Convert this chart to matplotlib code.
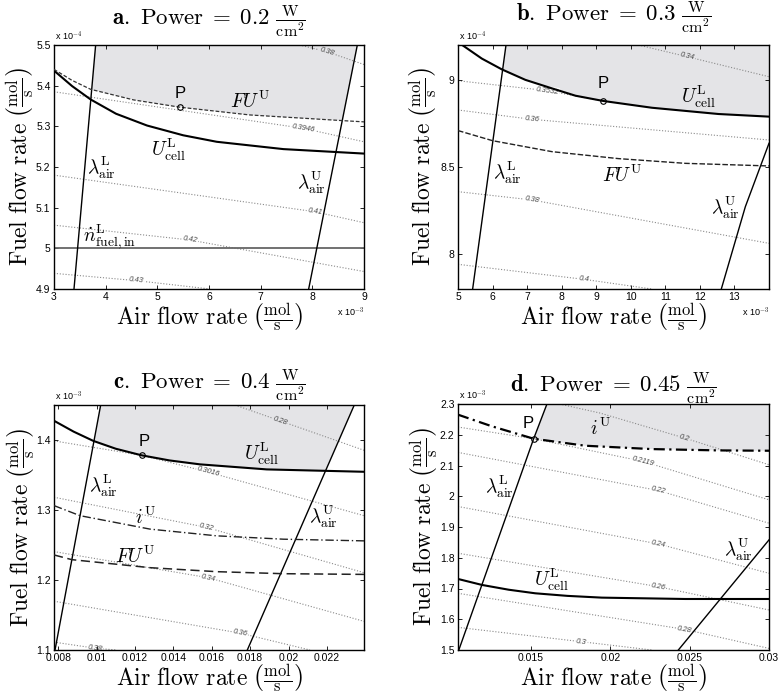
import math
import numpy as np
import matplotlib
matplotlib.use("Agg")
import matplotlib.pyplot as plt
from matplotlib.patches import Polygon
from matplotlib.path import Path
from matplotlib.ticker import FuncFormatter

plt.rcParams['mathtext.fontset'] = 'cm'
plt.rcParams['font.family'] = ['Liberation Sans', 'DejaVu Sans']

# ---------------- panel a  (x: 1e-3 mol/s, y: 1e-4 mol/s) ----------------
a_xlim = (3.0, 9.0)
a_ylim = (4.9, 5.5)
a_xticks = [3, 4, 5, 6, 7, 8, 9]
a_yticks = [4.9, 5.0, 5.1, 5.2, 5.3, 5.4, 5.5]
a_lamL_x = [3.387, 3.806]
a_lamL_y = [4.9, 5.5]
a_lamU_x = [7.929, 8.871]
a_lamU_y = [4.9, 5.5]
a_ucell_x = [3.0, 3.35, 3.71, 4.2, 4.8, 5.5, 6.15, 7.44, 9.0]
a_ucell_y = [5.437, 5.399, 5.366, 5.331, 5.302, 5.278, 5.262, 5.244, 5.233]
a_fu_x = [3.0, 3.35, 3.71, 4.54, 5.44, 6.79, 8.59, 9.0]
a_fu_y = [5.440, 5.413, 5.391, 5.365, 5.347, 5.328, 5.314, 5.311]
a_nfuel_in = 5.0
a_P = (5.44, 5.347)
a_levels = ['0.38', '0.3946', '0.41', '0.42', '0.43']
a_cont_x = [[7.75, 8.28, 9.0], [3.0, 7.83, 9.0], [3.0, 8.05, 9.0],
            [3.0, 5.63, 9.0], [3.0, 4.6, 6.02]]
a_cont_y = [[5.5, 5.4836, 5.452], [5.385, 5.295, 5.262], [5.180, 5.090, 5.063],
            [5.057, 5.0205, 4.943], [4.9385, 4.9205, 4.9]]
a_cont_lab = [1, 1, 1, 1, 1]

# ---------------- panel b  (x: 1e-3, y: 1e-4) ----------------
b_xlim = (5.0, 14.0)
b_ylim = (7.8, 9.2)
b_xticks = [5, 6, 7, 8, 9, 10, 11, 12, 13]
b_yticks = [8.0, 8.5, 9.0]
b_lamL_x = [5.424, 6.389]
b_lamL_y = [7.8, 9.2]
b_lamU_x = [12.62, 13.315, 14.0]
b_lamU_y = [7.8, 8.272, 8.636]
b_ucell_x = [5.12, 5.69, 6.27, 6.95, 7.72, 8.4, 9.2, 10.61, 12.54, 14.0]
b_ucell_y = [9.2, 9.122, 9.06, 9.0, 8.951, 8.909, 8.879, 8.84, 8.804, 8.789]
b_fu_x = [5.0, 6.0, 7.72, 9.65, 11.58, 14.0]
b_fu_y = [8.709, 8.651, 8.588, 8.548, 8.521, 8.506]
b_P = (9.196, 8.879)
b_levels = ['0.34', '0.3532', '0.36', '0.38', '0.4']
b_cont_x = [[10.22, 11.63, 14.0], [5.0, 7.58, 9.196], [5.0, 7.14, 14.0],
            [5.0, 7.14, 14.0], [5.0, 8.64, 10.61]]
b_cont_y = [[9.2, 9.133, 9.018], [8.995, 8.938, 8.879], [8.827, 8.7735, 8.655],
            [8.3585, 8.311, 8.062], [7.9416, 7.8556, 7.8]]
b_cont_lab = [1, 1, 1, 1, 1]

# ---------------- panel c  (x: mol/s, y: 1e-3) ----------------
c_xlim = (0.00778, 0.02393)
c_ylim = (1.1, 1.45)
c_xticks = [0.008, 0.010, 0.012, 0.014, 0.016, 0.018, 0.020, 0.022]
c_yticks = [1.1, 1.2, 1.3, 1.4]
c_lamL_x = [0.007833, 0.010212]
c_lamL_y = [1.1, 1.45]
c_lamU_x = [0.017851, 0.023424]
c_lamU_y = [1.1, 1.45]
c_ucell_x = [0.00778, 0.00880, 0.00983, 0.01100, 0.012349, 0.01380, 0.015387, 0.018859, 0.02393]
c_ucell_y = [1.4275, 1.4120, 1.3987, 1.3875, 1.3781, 1.3708, 1.3652, 1.3580, 1.3546]
c_iu_x = [0.00778, 0.009136, 0.012781, 0.016253, 0.019725, 0.02393]
c_iu_y = [1.3063, 1.2919, 1.2727, 1.2631, 1.2583, 1.2559]
c_fu_x = [0.00778, 0.008701, 0.012781, 0.016253, 0.019725, 0.02393]
c_fu_y = [1.2358, 1.2291, 1.2176, 1.2119, 1.2090, 1.2080]
c_P = (0.012349, 1.3781)
c_levels = ['0.28', '0.3016', '0.32', '0.34', '0.36', '0.38']
c_cont_x = [[0.017208, 0.019552, 0.02393], [0.00778, 0.012349, 0.01582, 0.02393],
            [0.00778, 0.015733, 0.02393], [0.00778, 0.01582, 0.02393],
            [0.00778, 0.017469, 0.021116], [0.00778, 0.009917, 0.011045]]
c_cont_y = [[1.45, 1.42748, 1.38531], [1.39873, 1.3781, 1.35417, 1.29188],
            [1.31823, 1.27511, 1.21043], [1.24061, 1.20324, 1.14095],
            [1.16969, 1.12417, 1.1], [1.11124, 1.10262, 1.1]]
c_cont_lab = [1, 2, 1, 1, 1, 1]

# ---------------- panel d  (x: mol/s, y: 1e-3) ----------------
d_xlim = (0.0104, 0.03)
d_ylim = (1.5, 2.3)
d_xticks = [0.015, 0.020, 0.025, 0.030]
d_yticks = [1.5, 1.6, 1.7, 1.8, 1.9, 2.0, 2.1, 2.2, 2.3]
d_lamL_x = [0.010451, 0.015168, 0.016006]
d_lamL_y = [1.5, 2.1871, 2.3]
d_lamU_x = [0.024287, 0.03]
d_lamU_y = [1.5, 1.8581]
d_ucell_x = [0.0104, 0.01192, 0.01360, 0.01527, 0.01730, 0.019465, 0.02471, 0.03]
d_ucell_y = [1.731, 1.7115, 1.6960, 1.6844, 1.6760, 1.6703, 1.6659, 1.6659]
d_iu_x = [0.0104, 0.012547, 0.015168, 0.018417, 0.0226, 0.0268, 0.03]
d_iu_y = [2.2653, 2.2273, 2.1871, 2.1643, 2.1534, 2.1491, 2.148]
d_P = (0.015168, 2.1871)
d_levels = ['0.2', '0.2119', '0.22', '0.24', '0.26', '0.28', '0.3']
d_cont_x = [[0.0168, 0.01934, 0.024685, 0.03], [0.0104, 0.015168, 0.022065, 0.03],
            [0.0104, 0.023008, 0.03], [0.0104, 0.023008, 0.03],
            [0.0104, 0.023008, 0.03], [0.0104, 0.024685, 0.03],
            [0.0104, 0.018187, 0.02261]]
d_cont_y = [[2.3, 2.2707, 2.18925, 2.1024], [2.2251, 2.1871, 2.1132, 1.9884],
            [2.1426, 2.0188, 1.9124], [1.9667, 1.8451, 1.7495],
            [1.8147, 1.7061, 1.6301], [1.6844, 1.5671, 1.5052],
            [1.5736, 1.5269, 1.5]]
d_cont_lab = [2, 2, 1, 1, 1, 1, 1]

# ---------------- text labels ----------------
LAM_L = r'$\lambda^{\mathrm{L}}_{\mathrm{air}}$'
LAM_U = r'$\lambda^{\mathrm{U}}_{\mathrm{air}}$'
UCELL = r'$U^{\mathrm{L}}_{\mathrm{cell}}$'
FUU = r'$FU^{\mathrm{U}}$'
IU = r'$i^{\mathrm{U}}$'
NFUEL = r'$\dot{n}^{\mathrm{L}}_{\mathrm{fuel,in}}$'

a_lbl = ['P', FUU, UCELL, LAM_L, LAM_U, NFUEL]
a_lbl_x = [5.44, 6.79, 5.21, 3.92, 7.99, 4.08]
a_lbl_y = [5.381, 5.361, 5.242, 5.197, 5.160, 5.029]
b_lbl = ['P', UCELL, FUU, LAM_L, LAM_U]
b_lbl_x = [9.215, 11.96, 9.75, 6.42, 12.74]
b_lbl_y = [8.98, 8.904, 8.454, 8.464, 8.263]
c_lbl = ['P', UCELL, LAM_L, IU, FUU, LAM_U]
c_lbl_x = [0.01247, 0.0186, 0.01035, 0.01252, 0.0120, 0.02181]
c_lbl_y = [1.3973, 1.3805, 1.335, 1.2895, 1.2344, 1.2895]
d_lbl = ['P', IU, LAM_L, UCELL, LAM_U]
d_lbl_x = [0.01481, 0.01936, 0.01301, 0.01626, 0.02810]
d_lbl_y = [2.236, 2.2218, 2.0296, 1.7278, 1.8255]

TITLES = [r'$\mathbf{a.}\ \mathrm{Power}\;=\;0.2\ \frac{\mathrm{W}}{\mathrm{cm}^2}$',
          r'$\mathbf{b.}\ \mathrm{Power}\;=\;0.3\ \frac{\mathrm{W}}{\mathrm{cm}^2}$',
          r'$\mathbf{c.}\ \mathrm{Power}\;=\;0.4\ \frac{\mathrm{W}}{\mathrm{cm}^2}$',
          r'$\mathbf{d.}\ \mathrm{Power}\;=\;0.45\ \frac{\mathrm{W}}{\mathrm{cm}^2}$']
XLABEL = r'$\mathrm{Air\ flow\ rate}\ \left(\frac{\mathrm{mol}}{\mathrm{s}}\right)$'
YLABEL = r'$\mathrm{Fuel\ flow\ rate}\ \left(\frac{\mathrm{mol}}{\mathrm{s}}\right)$'

FILL = '#e4e4e7'
CONT = '#8a8a8a'

fig = plt.figure(figsize=(7.78, 6.93), dpi=100)
W, H = 778.0, 693.0


def rect(l, r, t, b):
    return [l / W, (H - b) / H, (r - l) / W, (b - t) / H]


def fmt(v, pos):
    return '%g' % round(v, 6)


def setup(ax, xlim, ylim, xticks, yticks):
    ax.set_xlim(*xlim)
    ax.set_ylim(*ylim)
    ax.set_xticks(xticks)
    ax.set_yticks(yticks)
    ax.xaxis.set_major_formatter(FuncFormatter(fmt))
    ax.yaxis.set_major_formatter(FuncFormatter(fmt))
    ax.tick_params(direction='in', length=3, width=0.6, labelsize=7.5, pad=2.5,
                   top=True, right=True)
    for s in ax.spines.values():
        s.set_linewidth(1.0)


def shade(ax, xlim, ylim, lx, ly, ux, uy, bx, by):
    ytop = max(ylim[1], max(by))
    polyA = list(zip(bx, by)) + [(bx[-1], ytop), (bx[0], ytop)]
    polyB = list(zip(lx, ly)) + [(xlim[1], ylim[1])] + list(zip(ux, uy))[::-1]
    fp = Polygon(polyA, closed=True, facecolor=FILL, edgecolor='none', zorder=0)
    cp = Polygon(polyB, closed=True, transform=ax.transData)
    fp.set_clip_path(cp)
    ax.add_patch(fp)
    return Path(polyA), Path(polyB)


def contours(ax, levels, cx, cy, lab, pA, pB):
    for lev, xs, ys, i in zip(levels, cx, cy, lab):
        ax.plot(xs, ys, color=CONT, lw=0.8, linestyle=(0, (1, 1.6)), zorder=1)
        p = ax.transData.transform([(xs[i - 1], ys[i - 1]), (xs[i + 1], ys[i + 1])])
        ang = math.degrees(math.atan2(p[1][1] - p[0][1], p[1][0] - p[0][0]))
        inside = pA.contains_point((xs[i], ys[i])) and pB.contains_point((xs[i], ys[i]))
        bg = FILL if inside else 'white'
        ax.text(xs[i], ys[i], lev, fontsize=5.5, color='#444444', rotation=ang,
                rotation_mode='anchor', ha='center', va='center', zorder=1.5,
                style='italic',
                bbox=dict(facecolor=bg, edgecolor='none', pad=0.6))


def labels(ax, names, xs, ys):
    for n, x, y in zip(names, xs, ys):
        if n == 'P':
            ax.text(x, y, n, fontsize=12, ha='center', va='center', zorder=5)
        else:
            ax.text(x, y, n, fontsize=14, ha='center', va='center', zorder=5)


def deco(ax, title, ty, ylx, xexp, yexp):
    ax.text(0.5, ty, title, transform=ax.transAxes, ha='center', va='center', fontsize=16.5)
    ax.text(0.5, -0.115, XLABEL, transform=ax.transAxes, ha='center', va='center', fontsize=17)
    ax.text(ylx, 0.5, YLABEL, transform=ax.transAxes, ha='center', va='center',
            rotation=90, fontsize=17)
    ax.text(0.003, 1.008, 'x 10$^{%s}$' % yexp, transform=ax.transAxes, ha='left',
            va='bottom', fontsize=6.5)
    if xexp:
        ax.text(1.0, -0.095, 'x 10$^{%s}$' % xexp, transform=ax.transAxes, ha='right',
                va='center', fontsize=6.5)


def marker(ax, P):
    ax.plot([P[0]], [P[1]], marker='o', ms=4, mfc='none', mec='black', mew=0.8, zorder=4)


# ---------------- panel a ----------------
ax = fig.add_axes(rect(54, 364, 45, 289))
setup(ax, a_xlim, a_ylim, a_xticks, a_yticks)
pA, pB = shade(ax, a_xlim, a_ylim, a_lamL_x, a_lamL_y, a_lamU_x, a_lamU_y, a_fu_x, a_fu_y)
contours(ax, a_levels, a_cont_x, a_cont_y, a_cont_lab, pA, pB)
ax.axhline(a_nfuel_in, color='#666666', lw=1.3, zorder=2)
ax.plot(a_lamL_x, a_lamL_y, color='black', lw=1.0, zorder=3)
ax.plot(a_lamU_x, a_lamU_y, color='black', lw=1.0, zorder=3)
ax.plot(a_ucell_x, a_ucell_y, color='black', lw=1.5, zorder=3)
ax.plot(a_fu_x, a_fu_y, color='#333333', lw=0.9, linestyle=(0, (3, 1.5)), zorder=3)
marker(ax, a_P)
labels(ax, a_lbl, a_lbl_x, a_lbl_y)
deco(ax, TITLES[0], 1.095, -0.11, '-3', '-4')

# ---------------- panel b ----------------
ax = fig.add_axes(rect(458, 769, 45, 289))
setup(ax, b_xlim, b_ylim, b_xticks, b_yticks)
pA, pB = shade(ax, b_xlim, b_ylim, b_lamL_x, b_lamL_y, b_lamU_x, b_lamU_y, b_ucell_x, b_ucell_y)
contours(ax, b_levels, b_cont_x, b_cont_y, b_cont_lab, pA, pB)
ax.plot(b_lamL_x, b_lamL_y, color='black', lw=1.0, zorder=3)
ax.plot(b_lamU_x, b_lamU_y, color='black', lw=1.0, zorder=3)
ax.plot(b_ucell_x, b_ucell_y, color='black', lw=1.5, zorder=3)
ax.plot(b_fu_x, b_fu_y, color='#222222', lw=1.0, linestyle=(0, (4, 1.5)), zorder=3)
marker(ax, b_P)
labels(ax, b_lbl, b_lbl_x, b_lbl_y)
deco(ax, TITLES[1], 1.11, -0.112, '-3', '-4')

# ---------------- panel c ----------------
ax = fig.add_axes(rect(54, 364, 405, 650))
setup(ax, c_xlim, c_ylim, c_xticks, c_yticks)
pA, pB = shade(ax, c_xlim, c_ylim, c_lamL_x, c_lamL_y, c_lamU_x, c_lamU_y, c_ucell_x, c_ucell_y)
contours(ax, c_levels, c_cont_x, c_cont_y, c_cont_lab, pA, pB)
ax.plot(c_lamL_x, c_lamL_y, color='black', lw=1.0, zorder=3)
ax.plot(c_lamU_x, c_lamU_y, color='black', lw=1.0, zorder=3)
ax.plot(c_ucell_x, c_ucell_y, color='black', lw=1.5, zorder=3)
ax.plot(c_iu_x, c_iu_y, color='#222222', lw=1.0, linestyle=(0, (6, 2, 1, 2)), zorder=3)
ax.plot(c_fu_x, c_fu_y, color='#222222', lw=1.1, linestyle=(0, (6, 3)), zorder=3)
marker(ax, c_P)
labels(ax, c_lbl, c_lbl_x, c_lbl_y)
deco(ax, TITLES[2], 1.079, -0.105, None, '-3')

# ---------------- panel d ----------------
ax = fig.add_axes(rect(458, 769, 404, 650))
setup(ax, d_xlim, d_ylim, d_xticks, d_yticks)
pA, pB = shade(ax, d_xlim, d_ylim, d_lamL_x, d_lamL_y, d_lamU_x, d_lamU_y, d_iu_x, d_iu_y)
contours(ax, d_levels, d_cont_x, d_cont_y, d_cont_lab, pA, pB)
ax.plot(d_lamL_x, d_lamL_y, color='black', lw=1.0, zorder=3)
ax.plot(d_lamU_x, d_lamU_y, color='black', lw=1.0, zorder=3)
ax.plot(d_ucell_x, d_ucell_y, color='black', lw=1.5, zorder=3)
ax.plot(d_iu_x, d_iu_y, color='black', lw=1.6, linestyle=(0, (5, 2, 1, 2)), zorder=3)
marker(ax, d_P)
labels(ax, d_lbl, d_lbl_x, d_lbl_y)
deco(ax, TITLES[3], 1.061, -0.108, None, '-3')

fig.savefig('out.png', dpi=100)
